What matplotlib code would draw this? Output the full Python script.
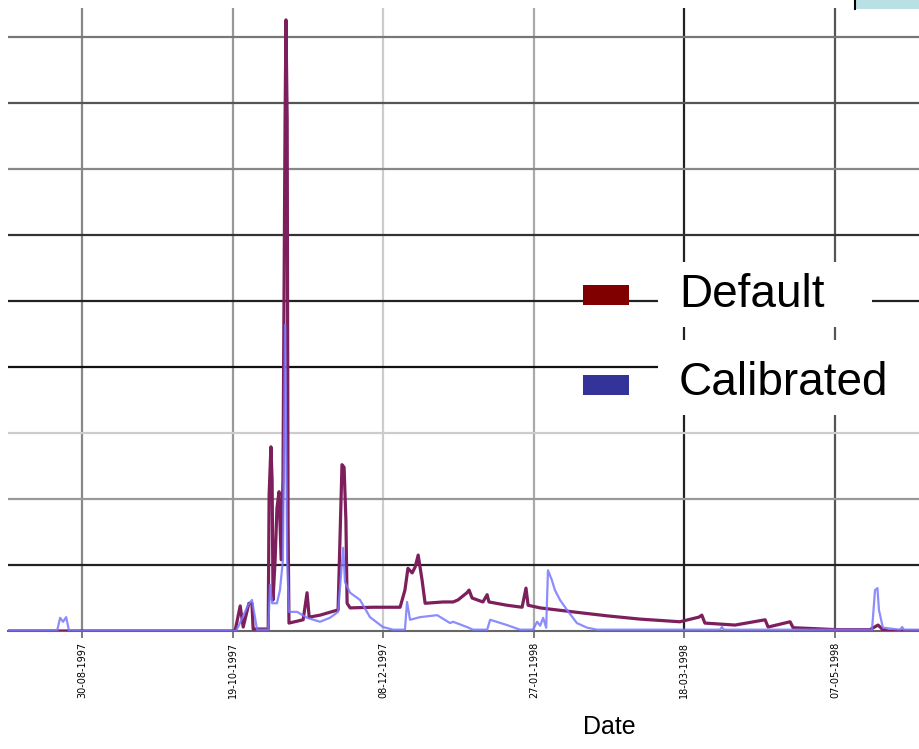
import numpy as np
import pandas as pd
import matplotlib
matplotlib.use("Agg")
from matplotlib import pyplot as plt
import matplotlib.dates as mdates
from matplotlib.patches import Rectangle

# days counted from 30-08-1997, flow values
start = pd.Timestamp("1997-08-30")

default_days = [-24.6, 50.8, 52.5, 53.5, 55.4, 56.4, 56.8, 61.8, 62.1, 62.7, 63.1, 63.4,
                64.1, 64.7, 65.4, 66.1, 66.7, 67.4, 67.7, 68.1, 68.4, 68.7, 73.4, 74.7,
                75.4, 79.0, 85.0, 86.3, 87.0, 87.6, 88.0, 89.0, 96.6, 105.6, 107.2, 108.2,
                109.6, 110.6, 111.6, 112.9, 113.9, 119.9, 123.2, 124.8, 127.8, 128.5, 129.5,
                133.1, 134.5, 135.1, 141.1, 146.1, 147.4, 148.1, 152.1, 163.0, 174.3, 185.3,
                198.5, 204.8, 205.8, 206.8, 216.8, 226.8, 227.8, 235.1, 236.1, 250.7, 261.6,
                264.3, 265.9, 267.6, 277.9]
default_flow = [0, 0, 3.8, 0.6, 4.2, 4.2, 0.3, 0.3, 20.6, 27.9, 22.9, 4.7,
                10.8, 18.6, 21.1, 10.8, 22.9, 77.4, 92.6, 77.4, 16.4, 1.2, 1.7, 5.8,
                2.1, 2.4, 3.2, 25.2, 24.8, 16.8, 4.2, 3.5, 3.6, 3.6, 6.2, 9.5,
                8.8, 9.7, 11.5, 7.7, 4.2, 4.4, 4.4, 4.7, 5.8, 6.2, 5.0,
                4.4, 5.5, 4.4, 3.9, 3.6, 6.5, 3.9, 3.5, 2.9, 2.3, 1.8,
                1.4, 2.1, 2.4, 1.2, 0.9, 1.7, 0.6, 1.4, 0.5, 0.2, 0.2,
                0.9, 0.2, 0, 0]

calib_days = [-24.6, -8.3, -7.3, -6.3, -5.3, -4.3, 51.1, 51.8, 55.1, 56.4, 57.4, 58.1,
              61.8, 62.4, 63.1, 64.7, 65.7, 66.7, 67.4, 67.7, 68.1, 68.7, 71.4, 74.7,
              79.0, 82.3, 85.0, 86.7, 87.3, 89.0, 92.3, 95.6, 99.9, 103.3, 107.2, 107.9,
              108.9, 112.2, 117.9, 122.2, 123.2, 127.8, 129.8, 134.5, 135.5, 141.1, 145.4,
              149.7, 151.1, 152.1, 153.1, 154.1, 154.7, 156.0, 157.0, 158.7, 161.0, 164.3,
              167.7, 171.0, 211.8, 212.5, 213.1, 262.3, 263.3, 264.1, 264.6, 265.9, 271.6,
              272.3, 272.9, 277.9]
calib_flow = [0, 0, 2.0, 1.4, 2.1, 0, 0, 0.6, 3.9, 4.7, 2.1, 0.2,
              0.2, 7.0, 4.2, 4.2, 6.2, 10.8, 46.4, 32.0, 10.8, 2.9, 2.9, 2.0,
              1.4, 2.0, 2.9, 12.6, 7.4, 5.8, 4.7, 2.1, 0.6, 0.2, 0.2, 4.4,
              1.7, 2.1, 2.4, 1.2, 1.4, 0.6, 0.2, 0.2, 1.7, 0.9, 0.2,
              0.2, 1.4, 0.8, 2.0, 0.5, 9.2, 7.7, 6.2, 4.7, 3.2, 1.2,
              0.5, 0.2, 0.2, 0.6, 0.2, 0.2, 6.2, 6.5, 3.2, 0.5, 0.2,
              0.6, 0.2, 0.2]

tick_dates = ["1997-08-30", "1997-10-19", "1997-12-08", "1998-01-27", "1998-03-18", "1998-05-07"]
y_levels = [10, 20, 30, 40, 50, 60, 70, 80, 90]

hgrid_colors = ["#222222", "#999999", "#cccccc", "#111111", "#222222", "#333333",
                "#888888", "#555555", "#777777"]
vgrid_colors = ["#888888", "#999999", "#cccccc", "#aaaaaa", "#222222", "#555555"]

W, H = 919, 749


def fx(x):
    return x / W


def fy(y):
    return 1 - y / H


def to_dates(days):
    return start + pd.to_timedelta(np.array(days), unit="D")


fig = plt.figure(figsize=(W / 100, H / 100), dpi=100)
ax = fig.add_axes([fx(8), fy(631), fx(919) - fx(8), fy(8) - fy(631)])

ax.plot(to_dates(default_days), default_flow, color="#7d1f5c", lw=2.3, zorder=3)
ax.plot(to_dates(calib_days), calib_flow, color="#7878ff", lw=1.6, alpha=0.85, zorder=4)

ax.set_xlim(to_dates([-24.6])[0], to_dates([277.9])[0])
ax.set_ylim(0, 94.4)

ax.set_yticks(y_levels)
ax.set_xticks(pd.to_datetime(tick_dates))
ax.xaxis.set_major_formatter(mdates.DateFormatter("%d-%m-%Y"))
ax.grid(True, lw=1.6)
ax.set_axisbelow(True)
for line, c in zip(ax.yaxis.get_gridlines(), hgrid_colors):
    line.set_color(c)
for line, c in zip(ax.xaxis.get_gridlines(), vgrid_colors):
    line.set_color(c)

ax.tick_params(axis="y", length=0, labelleft=False)
ax.tick_params(axis="x", length=5, width=1.2, color="#666666", pad=3,
               labelsize=7, labelrotation=90)
for s in ["left", "top", "right"]:
    ax.spines[s].set_visible(False)
ax.spines["bottom"].set_color("#666666")
ax.spines["bottom"].set_linewidth(1.5)

ax.set_xlabel("Date", fontsize=18, family="Liberation Sans")
ax.xaxis.set_label_coords((609 - 8) / (919 - 8), -(727 - 631) / (631 - 8), transform=ax.transAxes)
ax.xaxis.label.set_va("center")

# legend drawn by hand: white boxes behind the labels
tf = fig.transFigure
fig.patches.append(Rectangle((fx(658), fy(327)), fx(872) - fx(658), fy(262) - fy(327),
                             transform=tf, facecolor="white", edgecolor="none", zorder=2))
fig.patches.append(Rectangle((fx(658), fy(415)), fx(919) - fx(658), fy(340) - fy(415),
                             transform=tf, facecolor="white", edgecolor="none", zorder=2))
fig.patches.append(Rectangle((fx(583), fy(305)), fx(629) - fx(583), fy(285) - fy(305),
                             transform=tf, facecolor="#800000", edgecolor="none", zorder=3))
fig.patches.append(Rectangle((fx(583), fy(395)), fx(629) - fx(583), fy(375) - fy(395),
                             transform=tf, facecolor="#333399", edgecolor="none", zorder=3))
fig.text(fx(679), fy(307), "Default", fontsize=33, family="Liberation Sans",
         va="baseline", zorder=4)
fig.text(fx(679), fy(395), "Calibrated", fontsize=33, family="Liberation Sans",
         va="baseline", zorder=4)

# piece of a box poking in at the top right
fig.patches.append(Rectangle((fx(855), fy(9)), fx(919) - fx(855), fy(0) - fy(9),
                             transform=tf, facecolor="#b9e0e3", edgecolor="none", zorder=2))
fig.lines.append(plt.Line2D([fx(855), fx(855)], [fy(0), fy(9)], transform=tf,
                            color="black", lw=1.5, zorder=3))

fig.savefig("out.png", dpi=100)
